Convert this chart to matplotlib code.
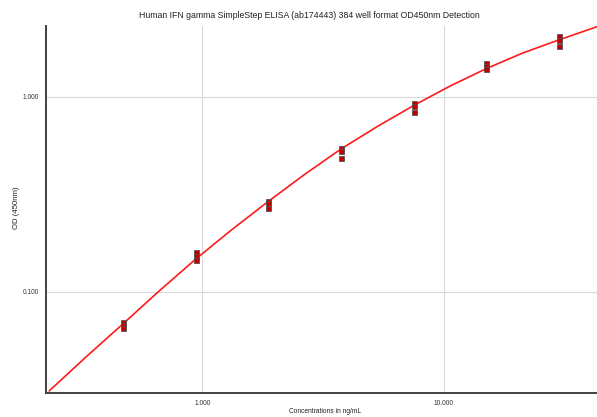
import matplotlib
matplotlib.use("Agg")
import matplotlib.pyplot as plt
from matplotlib.ticker import FixedLocator, NullLocator, FixedFormatter

plt.rcParams['font.family'] = ['Liberation Sans', 'DejaVu Sans']

# standard dilution series (ng/mL) and the three OD450 replicates per standard
conc = [0.469, 0.938, 1.875, 3.75, 7.5, 15, 30]
od_rep1 = [0.0701, 0.161, 0.294, 0.547, 0.930, 1.50, 2.05]
od_rep2 = [0.0677, 0.153, 0.286, 0.528, 0.898, 1.44, 1.96]
od_rep3 = [0.0654, 0.146, 0.268, 0.488, 0.834, 1.39, 1.82]

# fitted standard curve
curve_x = [0.233, 0.33, 0.469, 0.66, 0.938, 1.32, 1.875, 2.65, 3.75,
           5.3, 7.5, 10.6, 15, 21.2, 30, 43]
curve_y = [0.0311, 0.0463, 0.0684, 0.1005, 0.147, 0.2077, 0.2908, 0.400, 0.5404,
           0.705, 0.9035, 1.137, 1.398, 1.680, 1.963, 2.291]

fig = plt.figure(figsize=(5.97, 4.17), dpi=100)
ax = fig.add_axes([0.077, 0.0583, 0.923, 0.8793])

ax.set_xscale("log")
ax.set_yscale("log")
ax.set_xlim(0.2256, 43.0)
ax.set_ylim(0.0304, 2.31)

ax.grid(True, which="major", color="#d9d9d9", linewidth=0.8)
ax.set_axisbelow(True)

ax.plot(curve_x, curve_y, color="#ff1a1a", linewidth=1.2, zorder=2)
for rep in (od_rep1, od_rep2, od_rep3):
    ax.plot(conc, rep, linestyle="none", marker="s", markersize=3.6,
            markerfacecolor="#c00000", markeredgecolor="#555555",
            markeredgewidth=0.6, zorder=3)

ax.xaxis.set_major_locator(FixedLocator([1, 10]))
ax.xaxis.set_major_formatter(FixedFormatter(["1.000", "10.000"]))
ax.xaxis.set_minor_locator(NullLocator())
ax.yaxis.set_major_locator(FixedLocator([0.1, 1]))
ax.yaxis.set_major_formatter(FixedFormatter(["0.100", "1.000"]))
ax.yaxis.set_minor_locator(NullLocator())
ax.tick_params(axis="both", length=0, colors="#333333", labelsize=4.8, pad=5)

for side in ("top", "right"):
    ax.spines[side].set_visible(False)
for side in ("left", "bottom"):
    ax.spines[side].set_color("#404040")
    ax.spines[side].set_linewidth(1.4)

fig.text(0.544, 0.012, "Concentrations in ng/mL", ha="center", va="center",
         fontsize=4.8, color="#222222")
fig.text(0.027, 0.501, "OD (450nm)", ha="center", va="center", rotation=90,
         fontsize=5.6, color="#222222")
fig.text(0.518, 0.962, "Human IFN gamma SimpleStep ELISA (ab174443) 384 well format OD450nm Detection",
         ha="center", va="center", fontsize=6.3, color="#222222")

fig.savefig("out.png", dpi=100)
